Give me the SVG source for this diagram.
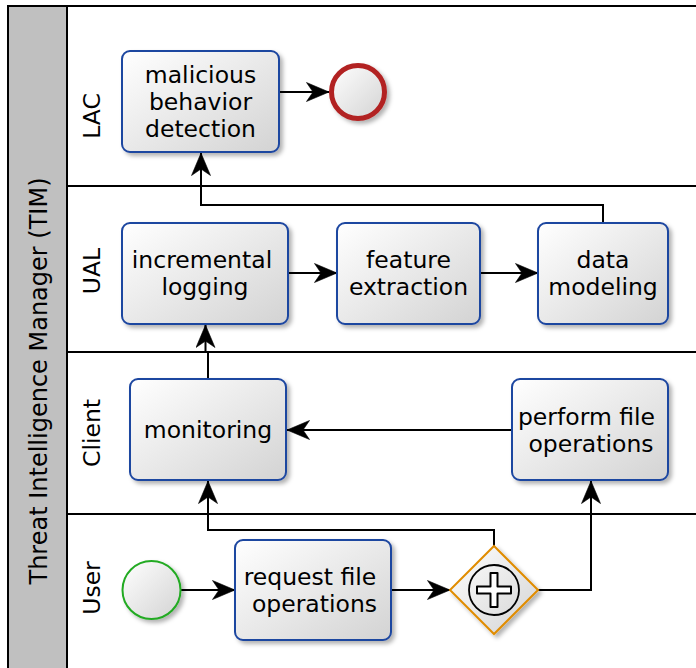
<svg xmlns="http://www.w3.org/2000/svg" width="696" height="668" viewBox="0 0 696 668">
<style>
text{font-family:"DejaVu Sans","Liberation Sans",sans-serif;fill:#000}
.t{font-size:23.5px;text-anchor:middle}
.lane{font-size:23.5px;text-anchor:middle}
.task{fill:url(#g);stroke:#1d46a0;stroke-width:2;filter:url(#sh)}
.c{fill:none;stroke:#000;stroke-width:2;marker-end:url(#a)}
.ln{stroke:#000;stroke-width:2;fill:none}
</style>
<defs>
<linearGradient id="g" x1="0" y1="0" x2="1" y2="1">
<stop offset="0" stop-color="#ffffff"/>
<stop offset="1" stop-color="#d3d3d3"/>
</linearGradient>
<filter id="sh" x="-20%" y="-20%" width="150%" height="150%">
<feDropShadow dx="3" dy="3" stdDeviation="2" flood-color="#000" flood-opacity="0.3"/>
</filter>
<marker id="a" markerUnits="userSpaceOnUse" viewBox="-23 -10 24 20" refX="0" refY="0" markerWidth="24" markerHeight="20" orient="auto">
<path d="M0,0 L-22.5,-9.5 L-16,0 L-22.5,9.5 Z" fill="#000" stroke="#000" stroke-width="0.6" stroke-linejoin="round"/>
</marker>
</defs>
<g id="pool">
<rect x="8" y="6" width="59" height="670" fill="#c0c0c0" stroke="#000" stroke-width="2"/>
<path class="ln" d="M67,6 H697 M67,186 H697 M67,352 H697 M67,514 H697"/>
<text transform="translate(47,381) rotate(-90)" style="font-size:24px;text-anchor:middle">Threat Intelligence Manager (TIM)</text>
<text class="lane" transform="translate(100,116) rotate(-90)">LAC</text>
<text class="lane" transform="translate(100,271) rotate(-90)">UAL</text>
<text class="lane" transform="translate(100,433) rotate(-90)">Client</text>
<text class="lane" transform="translate(100,588) rotate(-90)">User</text>
</g>
<g id="connectors">
<path class="c" d="M181,590 H235"/>
<path class="c" d="M392,590 H450"/>
<path class="c" d="M538,590 H591 V481"/>
<path class="c" d="M494,546 V530 H208 V481"/>
<path class="c" d="M512,430 H287"/>
<path class="c" d="M208,379 V352 H205.5 V325"/>
<path class="c" d="M288,273 H337"/>
<path class="c" d="M480,273 H538"/>
<path class="c" d="M603,223 V205 H201 V153"/>
<path class="c" d="M279,92 H329"/>
</g>
<g id="malicious">
<rect class="task" x="122" y="51" width="157" height="101" rx="8"/>
<text class="t" x="200.5" y="83">malicious</text>
<text class="t" x="200.5" y="110">behavior</text>
<text class="t" x="200.5" y="137">detection</text>
</g>
<g id="end">
<circle cx="358" cy="92" r="26.5" fill="url(#g)" stroke="#b22222" stroke-width="5" filter="url(#sh)"/>
</g>
<g id="incremental">
<rect class="task" x="122" y="223" width="166" height="101" rx="8"/>
<text class="t" x="202" y="268">incremental</text>
<text class="t" x="205" y="295">logging</text>
</g>
<g id="feature">
<rect class="task" x="337" y="223" width="143" height="101" rx="8"/>
<text class="t" x="408.5" y="268">feature</text>
<text class="t" x="408.5" y="295">extraction</text>
</g>
<g id="data">
<rect class="task" x="538" y="223" width="130" height="101" rx="8"/>
<text class="t" x="603" y="268">data</text>
<text class="t" x="603" y="295">modeling</text>
</g>
<g id="monitoring">
<rect class="task" x="130" y="379" width="156" height="101" rx="8"/>
<text class="t" x="208" y="438">monitoring</text>
</g>
<g id="perform">
<rect class="task" x="512" y="379" width="156" height="101" rx="8"/>
<text class="t" x="586.5" y="425">perform file</text>
<text class="t" x="591" y="452">operations</text>
</g>
<g id="start">
<circle cx="151.5" cy="590" r="29" fill="url(#g)" stroke="#22aa22" stroke-width="2" filter="url(#sh)"/>
</g>
<g id="request">
<rect class="task" x="235" y="540" width="156" height="100" rx="8"/>
<text class="t" x="310" y="585">request file</text>
<text class="t" x="314.5" y="612">operations</text>
</g>
<g id="gateway">
<polygon points="494,546 538,590 494,634 450,590" fill="url(#g)" stroke="#e08c00" stroke-width="2" filter="url(#sh)"/>
<circle cx="494" cy="590" r="25" fill="none" stroke="#000" stroke-width="1.8"/>
<path d="M490.5,573 H497.5 V586.5 H511 V593.5 H497.5 V607 H490.5 V593.5 H477 V586.5 H490.5 Z" fill="#fff" stroke="#000" stroke-width="2" stroke-linejoin="round"/>
</g>
</svg>
